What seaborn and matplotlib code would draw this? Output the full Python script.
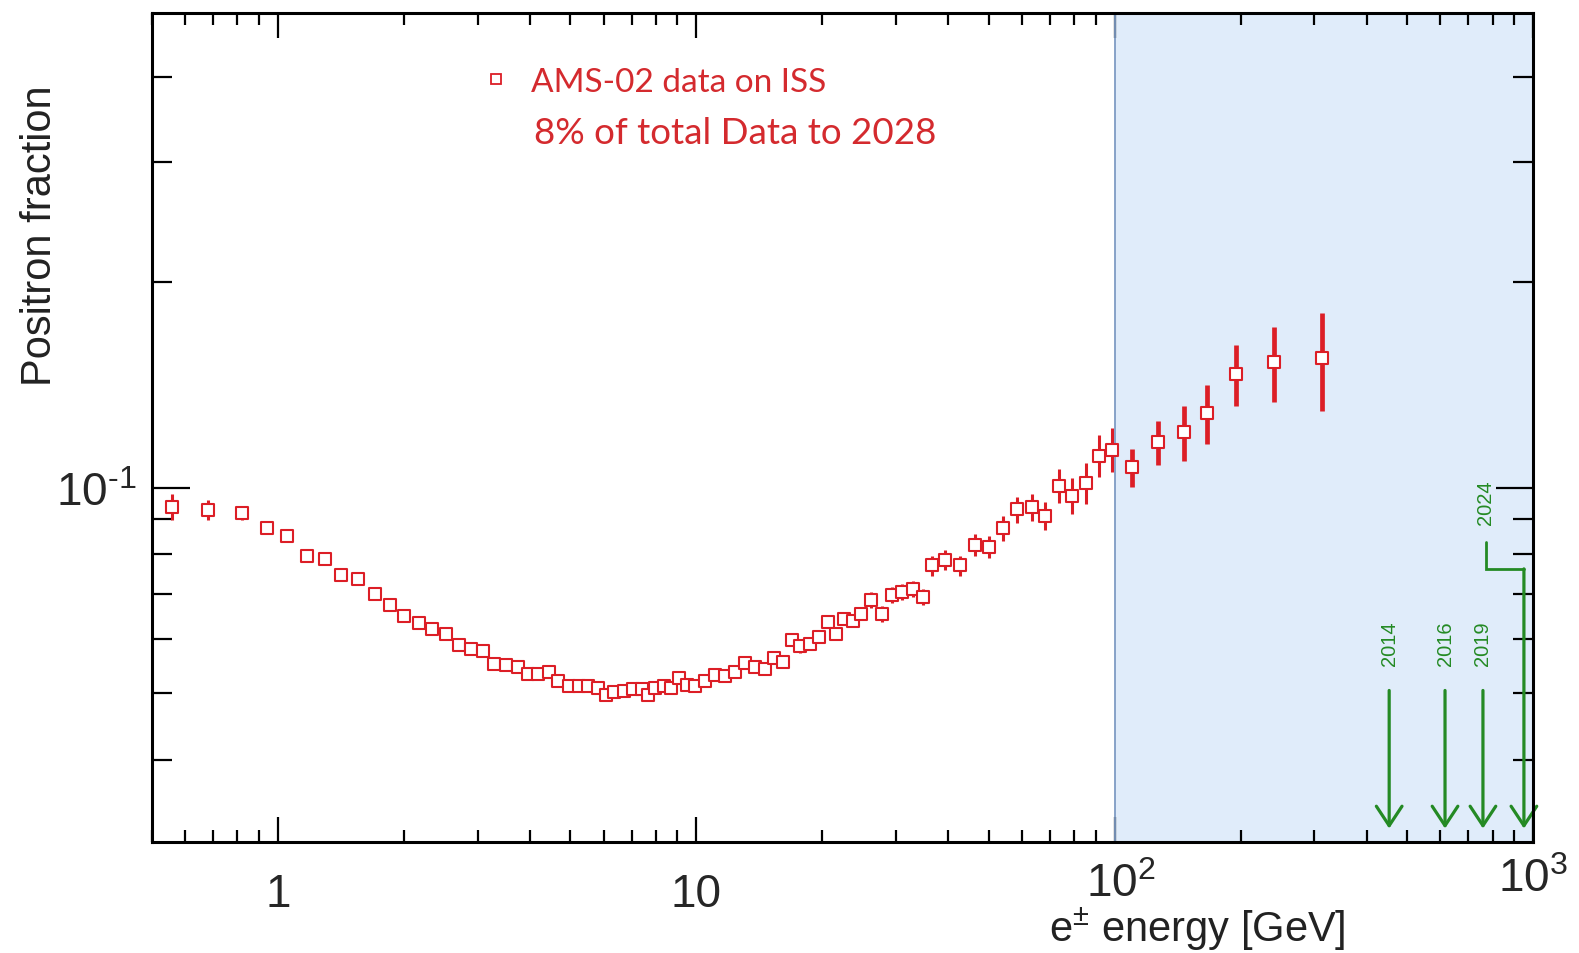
#!/usr/bin/env python3
"""AMS-02 positron fraction vs energy, with projected energy reach arrows."""

import numpy as np
import pandas as pd
import matplotlib
matplotlib.use('Agg')
import matplotlib.pyplot as plt
import seaborn as sns
from matplotlib.lines import Line2D
from matplotlib.ticker import FixedLocator, FixedFormatter, LogLocator, NullFormatter
from matplotlib.transforms import ScaledTranslation

energy = [0.557, 0.682, 0.819, 0.943, 1.052, 1.171, 1.293, 1.416, 1.554, 1.703,
          1.851, 2.003, 2.168, 2.336, 2.515, 2.702, 2.886, 3.084, 3.281, 3.504,
          3.739, 3.961, 4.178, 4.438, 4.682, 4.955, 5.236, 5.522, 5.805, 6.072,
          6.373, 6.723, 7.052, 7.415, 7.663, 7.984, 8.356, 8.715, 9.073, 9.495,
          9.945, 10.47, 11.10, 11.73, 12.39, 13.09, 13.83, 14.61, 15.30, 16.07,
          16.92, 17.72, 18.72, 19.59, 20.62, 21.54, 22.48, 23.62, 24.78, 26.18,
          27.75, 29.33, 31.10, 33.04, 34.91, 36.54, 39.33, 42.71, 46.38, 50.10,
          54.19, 58.55, 63.33, 68.17, 73.60, 79.19, 85.21, 91.73, 98.69, 110.2,
          127.1, 146.6, 166.4, 195.2, 240.5, 313.2]

fraction = [0.0938, 0.0929, 0.0918, 0.0873, 0.0851, 0.0796, 0.0787, 0.0746, 0.0736, 0.0699,
            0.0674, 0.0650, 0.0634, 0.0622, 0.0610, 0.0588, 0.0580, 0.0576, 0.0553, 0.0551,
            0.0546, 0.0534, 0.0534, 0.0538, 0.0522, 0.0512, 0.0512, 0.0512, 0.0510, 0.0498,
            0.0502, 0.0504, 0.0507, 0.0507, 0.0497, 0.0509, 0.0513, 0.0509, 0.0527, 0.0514,
            0.0513, 0.0522, 0.0532, 0.0531, 0.0538, 0.0554, 0.0546, 0.0543, 0.0563, 0.0556,
            0.0599, 0.0586, 0.0591, 0.0604, 0.0636, 0.0611, 0.0643, 0.0639, 0.0654, 0.0686,
            0.0654, 0.0697, 0.0705, 0.0711, 0.0692, 0.0770, 0.0785, 0.0770, 0.0825, 0.0819,
            0.0873, 0.0930, 0.0937, 0.0911, 0.1008, 0.0974, 0.1017, 0.1115, 0.1138, 0.1073,
            0.1168, 0.1208, 0.1288, 0.1469, 0.1529, 0.1550]

fraction_err = [0.0041, 0.0031, 0.0022, 0.0018, 0.0014, 0.0010, 0.0010, 0.0010, 0.0010, 0.0009,
                0.0009, 0.0009, 0.0008, 0.0008, 0.0008, 0.0008, 0.0008, 0.0008, 0.0007, 0.0007,
                0.0007, 0.0007, 0.0007, 0.0007, 0.0007, 0.0007, 0.0007, 0.0007, 0.0007, 0.0007,
                0.0007, 0.0007, 0.0007, 0.0007, 0.0007, 0.0007, 0.0007, 0.0007, 0.0007, 0.0007,
                0.0008, 0.0008, 0.0008, 0.0008, 0.0008, 0.0008, 0.0008, 0.0008, 0.0008, 0.0008,
                0.0012, 0.0012, 0.0012, 0.0012, 0.0013, 0.0012, 0.0013, 0.0013, 0.0013, 0.0018,
                0.0017, 0.0019, 0.0019, 0.0019, 0.0019, 0.0026, 0.0026, 0.0026, 0.0030, 0.0030,
                0.0038, 0.0041, 0.0044, 0.0043, 0.0058, 0.0059, 0.0069, 0.0079, 0.0084, 0.0069,
                0.0087, 0.0112, 0.0128, 0.0151, 0.0193, 0.0253]

# energy reach expected by year
reach_year = ['2014', '2016', '2019', '2024']
reach_energy = [453, 616, 759, 951]

x_ticks = [1, 10, 100, 1000]
x_ticklabels = ['1', '10', r'$10^{2}$', r'$10^{3}$']

RED = '#dc1e26'
TEXT_RED = '#d42a2e'
GREEN = '#248a24'

df = pd.DataFrame({'energy': energy, 'fraction': fraction, 'err': fraction_err})

sns.set_theme(style='ticks')
plt.rcParams['font.family'] = ['Liberation Sans', 'DejaVu Sans']
plt.rcParams['mathtext.fontset'] = 'custom'
plt.rcParams['mathtext.rm'] = 'Liberation Sans'
plt.rcParams['mathtext.it'] = 'Liberation Sans:italic'
plt.rcParams['mathtext.bf'] = 'Liberation Sans:bold'
plt.rcParams['mathtext.default'] = 'regular'

fig = plt.figure(figsize=(15.79, 9.54), dpi=100)
ax = fig.add_axes([0.0963, 0.1164, 0.8746, 0.8689])
ax.set_xscale('log')
ax.set_yscale('log')

# high energy region
ax.axvspan(100, 1000, color='#e0ecfa', zorder=0, lw=0)
ax.axvline(100, color='#7f9cc4', lw=1.3, zorder=1)

low = df[df['energy'] < 100]
high = df[df['energy'] >= 100]
ax.errorbar(low['energy'], low['fraction'], yerr=low['err'], fmt='none',
            ecolor=RED, elinewidth=2.2, capsize=0, zorder=2)
ax.errorbar(high['energy'], high['fraction'], yerr=high['err'], fmt='none',
            ecolor=RED, elinewidth=3.4, capsize=0, zorder=2)
sns.scatterplot(data=df, x='energy', y='fraction', marker='s', s=85,
                color='white', edgecolor=RED, linewidth=1.5, ax=ax, zorder=3,
                legend=False)

# reach arrows
for year, e in zip(reach_year, reach_energy):
    top = 0.0761 if year == '2024' else 0.0505
    ax.annotate('', xy=(e, 0.0317), xytext=(e, top),
                arrowprops=dict(arrowstyle='->,head_length=0.5,head_width=0.33',
                                color=GREEN, lw=2.3, mutation_scale=28,
                                shrinkA=0, shrinkB=0))
ax.plot([770, 770, reach_energy[-1]], [0.0834, 0.0761, 0.0761], color=GREEN,
        lw=2.0, solid_joinstyle='miter')
for year, e in zip(reach_year, reach_energy):
    if year == '2024':
        ax.text(770, 0.0954, year, rotation=90, ha='center', va='center',
                color=GREEN, fontsize=14.5)
    else:
        ax.text(e, 0.0594, year, rotation=90, ha='center', va='center',
                color=GREEN, fontsize=14.5)

ax.set_xlim(0.5, 1000)
ax.set_ylim(0.0303, 0.496)

ax.xaxis.set_major_locator(FixedLocator(x_ticks))
ax.xaxis.set_major_formatter(FixedFormatter(x_ticklabels))
ax.xaxis.set_minor_locator(LogLocator(base=10, subs=np.arange(2, 10)))
ax.xaxis.set_minor_formatter(NullFormatter())
ax.yaxis.set_major_locator(FixedLocator([0.1]))
ax.yaxis.set_major_formatter(FixedFormatter([r'$10^{\text{-}1}$']))
ax.yaxis.set_minor_locator(LogLocator(base=10, subs=np.arange(2, 10)))
ax.yaxis.set_minor_formatter(NullFormatter())

ax.tick_params(axis='both', which='both', direction='in', top=True, right=True,
               color='black', width=1.6)
ax.tick_params(axis='x', which='major', length=18, labelsize=33, pad=46)
ax.tick_params(axis='x', which='minor', length=8.6)
ax.tick_params(axis='y', which='major', length=27, labelsize=33, pad=11)
ax.tick_params(axis='y', which='minor', length=14.4)

fig.canvas.draw()
for lbl in ax.xaxis.get_majorticklabels():
    lbl.set_va('baseline')
xlabels = ax.xaxis.get_majorticklabels()
xlabels[2].set_transform(xlabels[2].get_transform()
                         + ScaledTranslation(0.06, 0.1, fig.dpi_scale_trans))
xlabels[3].set_transform(xlabels[3].get_transform()
                         + ScaledTranslation(0, 0.15, fig.dpi_scale_trans))

for side in ['left', 'right', 'top', 'bottom']:
    ax.spines[side].set_linewidth(2.2)
    ax.spines[side].set_color('black')
    ax.spines[side].set_zorder(5)

ax.set_ylabel('Positron fraction', fontsize=30, color='#222222')
ax.yaxis.set_label_coords(-0.067, 0.732)
ax.set_xlabel(r'e$^{\pm}$ energy [GeV]', fontsize=30, color='#222222')
ax.xaxis.set_label_coords(0.757, -0.076)

# legend
handle = Line2D([], [], marker='s', ls='none', mfc='white', mec=RED, mew=1.3, ms=7)
ax.legend(handles=[handle], labels=['AMS-02 data on ISS'], loc='center left',
          bbox_to_anchor=(0.2385, 0.917), frameon=False, borderpad=0,
          borderaxespad=0, handlelength=0.9, handletextpad=0.6,
          prop={'family': 'Lato', 'size': 24}, labelcolor=TEXT_RED)
ax.text(0.2766, 0.856, '8% of total Data to 2028', transform=ax.transAxes,
        ha='left', va='center', fontsize=26.5, family='Lato', color=TEXT_RED)

fig.savefig('out.png', dpi=100)
plt.close(fig)
